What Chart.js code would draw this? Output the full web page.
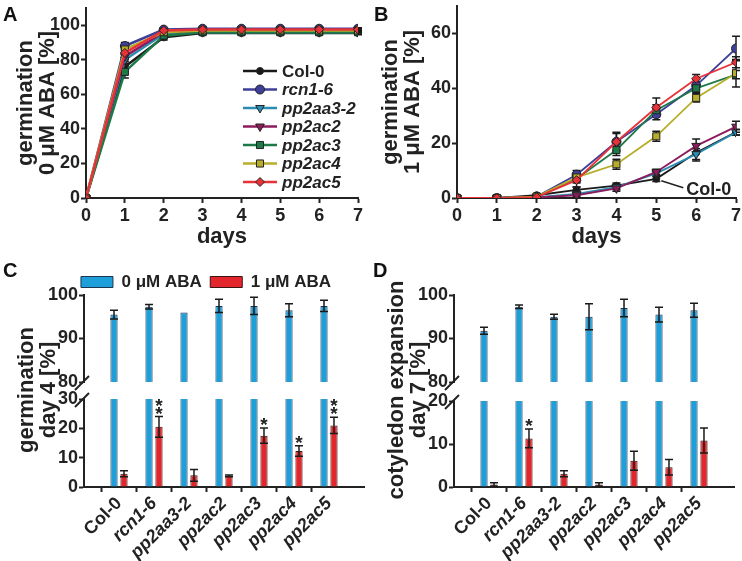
<!DOCTYPE html>
<html>
<head>
<meta charset="utf-8">
<script src="https://cdn.jsdelivr.net/npm/chart.js@4.4.1/dist/chart.umd.min.js"></script>
<style>
  body { margin: 0; background: #fff; }
  #wrap { position: relative; width: 742px; height: 561px; overflow: hidden; font-family: "Liberation Sans", Arial, sans-serif; }
  canvas { position: absolute; }
  .panel { position: absolute; font-weight: bold; font-size: 20px; line-height: 20px; color: #111; }
  .ytitle { position: absolute; width: 260px; height: 44px; font-weight: bold; font-size: 22px; line-height: 22px;
            color: #222; text-align: center; white-space: nowrap; transform: rotate(-90deg); }
</style>
</head>
<body>
<div id="wrap">
  <canvas id="cA" width="370" height="260" style="left:0;top:0"></canvas>
  <canvas id="cB" width="372" height="260" style="left:370px;top:0"></canvas>
  <canvas id="cCtop" width="370" height="135" style="left:0;top:262px"></canvas>
  <canvas id="cCbot" width="370" height="179" style="left:0;top:382px"></canvas>
  <canvas id="cDtop" width="372" height="135" style="left:370px;top:262px"></canvas>
  <canvas id="cDbot" width="372" height="179" style="left:370px;top:382px"></canvas>

  <div class="panel" style="left:3px;top:4px">A</div>
  <div class="panel" style="left:374px;top:4px">B</div>
  <div class="panel" style="left:3px;top:260px">C</div>
  <div class="panel" style="left:373px;top:260px">D</div>

  <div class="ytitle" style="left:-93px;top:368px"><div>germination</div><div>day 4 [%]</div></div>
  <div class="ytitle" style="left:277px;top:368px"><div>cotyledon expansion</div><div>day 7 [%]</div></div>
</div>
<script>
// ---- data ----
const days = [0, 1, 2, 3, 4, 5, 6, 7];
const genotypes = ['Col-0', 'rcn1-6', 'pp2aa3-2', 'pp2ac2', 'pp2ac3', 'pp2ac4', 'pp2ac5'];

// A: germination, 0 uM ABA
const aCol0   = [0, 76, 93, 95.5, 95.5, 95.5, 95.5, 95.5];
const aRcn1   = [0, 88, 97.5, 98, 98, 98, 98, 98];
const aPp2aa3 = [0, 80, 95, 96, 96, 96, 96, 96];
const aPp2ac2 = [0, 82, 96, 97, 97, 97, 97, 97];
const aPp2ac3 = [0, 73, 94, 96, 96, 96, 96, 96];
const aPp2ac4 = [0, 86, 96, 97, 97, 97, 97, 97];
const aPp2ac5 = [0, 84, 97, 97.5, 97.5, 97.5, 97.5, 97.5];
const aErrCol0   = [0, 3, 1.5, 1, 1, 1, 1, 1];
const aErrRcn1   = [0, 2, 1, 0.5, 0.5, 0.5, 0.5, 0.5];
const aErrPp2aa3 = [0, 2, 1, 1, 1, 1, 1, 1];
const aErrPp2ac2 = [0, 2, 1, 1, 1, 1, 1, 1];
const aErrPp2ac3 = [0, 3.5, 1.5, 1, 1, 1, 1, 1];
const aErrPp2ac4 = [0, 2, 1, 1, 1, 1, 1, 1];
const aErrPp2ac5 = [0, 2, 1, 0.5, 0.5, 0.5, 0.5, 0.5];

// B: germination, 1 uM ABA
const bCol0   = [0, 0, 1, 3, 4.5, 7, 16.5, 24];
const bRcn1   = [0, 0, 0.5, 8.5, 20.5, 30.5, 41, 54.5];
const bPp2aa3 = [0, 0, 0.3, 1.5, 4, 9, 16, 24];
const bPp2ac2 = [0, 0, 0.2, 1, 3.5, 9.5, 19, 26];
const bPp2ac3 = [0, 0, 0.5, 7, 17.5, 32, 40, 45];
const bPp2ac4 = [0, 0, 0.5, 7.5, 12.3, 22.5, 36.5, 45.5];
const bPp2ac5 = [0, 0, 0.3, 6.5, 20.5, 33, 43.5, 49.5];
const bErrCol0   = [0, 0, 0.5, 1, 1, 1, 3, 1];
const bErrRcn1   = [0, 0, 0.3, 1.5, 3, 2, 1.5, 4.5];
const bErrPp2aa3 = [0, 0, 0.2, 0.5, 1, 1, 2, 1];
const bErrPp2ac2 = [0, 0, 0.2, 0.5, 1, 1, 2.5, 2];
const bErrPp2ac3 = [0, 0, 0.3, 1.5, 2, 2, 1.5, 1.5];
const bErrPp2ac4 = [0, 0, 0.3, 1.5, 1.8, 1.8, 1.5, 5];
const bErrPp2ac5 = [0, 0, 0.3, 2.5, 3.5, 3.5, 1.5, 2];

// C: germination day 4
const cAba0    = [95.5, 97.3, 96.0, 97.5, 97.5, 96.5, 97.5];
const cAba0Err = [1.0, 0.5, 0, 1.5, 2.0, 1.5, 1.3];
const cAba1    = [4.5, 20.5, 4.0, 3.8, 17.5, 12.3, 21.0];
const cAba1Err = [1.0, 3.5, 2.0, 0.3, 2.6, 1.8, 2.8];
const cSig     = ['', '**', '', '', '*', '*', '**'];

// D: cotyledon expansion day 7
const dAba0    = [91.8, 97.3, 95.0, 95.0, 97.0, 95.5, 96.5];
const dAba0Err = [0.8, 0.4, 0.6, 3.0, 2.0, 1.7, 1.6];
const dAba1    = [0.6, 11.3, 3.1, 0.6, 6.1, 4.6, 10.8];
const dAba1Err = [0.4, 2.2, 0.7, 0.4, 2.2, 1.8, 2.9];
const dSig     = ['', '*', '', '', '', '', ''];

// ---- styles ----
const styles = [
  { color: '#1a1a1a', point: 'circle',   rot: 0,   r: 3.5 },
  { color: '#3d3f98', point: 'circle',   rot: 0,   r: 4.5 },
  { color: '#2a8db4', point: 'triangle', rot: 180, r: 5 },
  { color: '#8c1c5c', point: 'triangle', rot: 180, r: 5 },
  { color: '#1d7a48', point: 'rect',     rot: 0,   r: 5 },
  { color: '#b7ad2a', point: 'rect',     rot: 0,   r: 5 },
  { color: '#e8323a', point: 'rectRot',  rot: 0,   r: 4.5 }
];
const FONT = '"Liberation Sans", Arial, sans-serif';
const INK = '#222';
Chart.defaults.font.family = FONT;
Chart.defaults.font.weight = 'bold';
Chart.defaults.font.size = 18;
Chart.defaults.color = INK;
Chart.defaults.animation = false;

// pin scale sizes so the plot areas line up with the reference
function fix(size, vertical) {
  return s => {
    if (vertical) { s.width = size; s.paddingTop = 0; s.paddingBottom = 0; }
    else { s.height = size; s.paddingLeft = 0; s.paddingRight = 0; }
  };
}
const axisGrid = { drawOnChartArea: false, tickLength: 5, tickWidth: 2, tickColor: INK };
const axisBorder = { color: INK, width: 2 };

// ---- plugins ----
function drawErrors(chart, cap) {
  const ctx = chart.ctx, a = chart.chartArea;
  ctx.save();
  ctx.beginPath();
  ctx.rect(a.left - 8, a.top - 1, a.width + 16, a.height + 2);
  ctx.clip();
  ctx.strokeStyle = '#1a1a1a';
  ctx.lineWidth = 1.5;
  chart.data.datasets.forEach((ds, di) => {
    if (!ds.errors) return;
    const meta = chart.getDatasetMeta(di);
    const ys = chart.scales[meta.yAxisID];
    meta.data.forEach((el, i) => {
      const v = ds.data[i], e = ds.errors[i];
      if (v == null || !e) return;
      const x = el.x, y1 = ys.getPixelForValue(v + e), y2 = ys.getPixelForValue(v - e);
      ctx.beginPath();
      ctx.moveTo(x, y1); ctx.lineTo(x, y2);
      ctx.moveTo(x - cap, y1); ctx.lineTo(x + cap, y1);
      ctx.moveTo(x - cap, y2); ctx.lineTo(x + cap, y2);
      ctx.stroke();
    });
  });
  ctx.restore();
}
const errorBars = {
  id: 'errorBars',
  beforeDatasetsDraw(chart, args, opts) { if (!opts.front) drawErrors(chart, opts.cap); },
  afterDatasetsDraw(chart, args, opts) { if (opts.front) drawErrors(chart, opts.cap); }
};

const sigMarks = {
  id: 'sigMarks',
  afterDatasetsDraw(chart) {
    const ctx = chart.ctx, a = chart.chartArea;
    chart.data.datasets.forEach((ds, di) => {
      if (!ds.sig) return;
      const meta = chart.getDatasetMeta(di);
      const ys = chart.scales[meta.yAxisID];
      meta.data.forEach((el, i) => {
        const s = ds.sig[i];
        if (!s) return;
        const top = ys.getPixelForValue(ds.data[i] + (ds.errors[i] || 0));
        if (top < a.top) return;
        ctx.save();
        ctx.fillStyle = INK;
        ctx.font = 'bold 19px ' + FONT;
        ctx.textAlign = 'center';
        ctx.textBaseline = 'alphabetic';
        for (let k = 0; k < s.length; k++) {
          ctx.fillText('*', el.x, top - 8 - k * 8 + 11);
        }
        ctx.restore();
      });
    });
  }
};

const axisBreak = {
  id: 'axisBreak',
  afterDraw(chart, args, opts) {
    if (!opts.at) return;
    const a = chart.chartArea, ctx = chart.ctx;
    const y = opts.at === 'top' ? a.top : a.bottom;
    ctx.save();
    ctx.strokeStyle = INK;
    ctx.lineWidth = 2;
    ctx.beginPath();
    ctx.moveTo(a.left - 9, y + 8);
    ctx.lineTo(a.left + 5, y - 6);
    ctx.stroke();
    ctx.restore();
  }
};

const lineLegend = {
  id: 'lineLegend',
  afterDraw(chart, args, opts) {
    if (opts.x == null) return;
    const ctx = chart.ctx;
    chart.data.datasets.forEach((ds, i) => {
      const y = opts.y + i * opts.step;
      ctx.save();
      ctx.strokeStyle = ds.borderColor;
      ctx.lineWidth = 2.5;
      ctx.beginPath();
      ctx.moveTo(opts.x, y); ctx.lineTo(opts.x + 34, y);
      ctx.stroke();
      ctx.fillStyle = ds.pointBackgroundColor;
      ctx.strokeStyle = ds.pointBorderColor;
      ctx.lineWidth = 1;
      Chart.helpers.drawPoint(ctx, { pointStyle: ds.pointStyle, rotation: ds.pointRotation, radius: ds.pointRadius, borderWidth: 1 }, opts.x + 17, y);
      ctx.fillStyle = INK;
      ctx.font = (i === 0 ? '' : 'italic ') + 'bold 17px ' + FONT;
      ctx.textBaseline = 'middle';
      ctx.fillText(ds.label, opts.x + 39, y + 1);
      ctx.restore();
    });
  }
};

const note = {
  id: 'note',
  afterDatasetsDraw(chart, args, opts) {
    if (!opts.text) return;
    const ctx = chart.ctx;
    const x = chart.scales.x.getPixelForValue(opts.day);
    const y = chart.scales.y.getPixelForValue(opts.value);
    ctx.save();
    ctx.strokeStyle = INK;
    ctx.lineWidth = 1.5;
    ctx.beginPath();
    ctx.moveTo(x + 5, y + 2); ctx.lineTo(x + 27, y + 9);
    ctx.stroke();
    ctx.fillStyle = INK;
    ctx.font = 'bold 18px ' + FONT;
    ctx.textBaseline = 'middle';
    ctx.fillText(opts.text, x + 30, y + 11);
    ctx.restore();
  }
};

// ---- line panels ----
function lineChart(id, series, errors, cfg) {
  const datasets = series.map((data, i) => ({
    label: genotypes[i],
    data,
    errors: errors[i],
    borderColor: styles[i].color,
    backgroundColor: styles[i].color,
    borderWidth: cfg.lineWidth,
    tension: 0,
    pointStyle: styles[i].point,
    pointRotation: styles[i].rot,
    pointRadius: styles[i].r,
    pointBackgroundColor: styles[i].color,
    pointBorderColor: INK,
    pointBorderWidth: 1,
    order: series.length - i
  }));
  return new Chart(document.getElementById(id), {
    type: 'line',
    data: { labels: days, datasets },
    options: {
      responsive: false,
      layout: { padding: cfg.padding },
      plugins: {
        legend: { display: false },
        tooltip: { enabled: false },
        errorBars: { front: false, cap: 4 },
        lineLegend: cfg.legend || {},
        note: cfg.note || {}
      },
      scales: {
        x: {
          type: 'linear', min: 0, max: 7,
          ticks: { stepSize: 1, padding: 2 },
          grid: axisGrid, border: axisBorder,
          title: { display: true, text: 'days', font: { size: 22, lineHeight: 1 }, padding: { top: 0, bottom: 12 } },
          afterFit: fix(62, false)
        },
        y: {
          min: 0, max: cfg.yMax,
          ticks: { stepSize: 20, includeBounds: false, padding: 1 },
          grid: axisGrid, border: axisBorder,
          title: { display: true, text: cfg.yTitle, font: { size: 22, lineHeight: 1 }, padding: { top: cfg.titlePad, bottom: 0 } },
          afterFit: fix(cfg.yWidth, true)
        }
      }
    },
    plugins: [errorBars, lineLegend, note]
  });
}

lineChart('cA',
  [aCol0, aRcn1, aPp2aa3, aPp2ac2, aPp2ac3, aPp2ac4, aPp2ac5],
  [aErrCol0, aErrRcn1, aErrPp2aa3, aErrPp2ac2, aErrPp2ac3, aErrPp2ac4, aErrPp2ac5],
  { yMax: 110, yWidth: 86, titlePad: 15, lineWidth: 2.5, yTitle: ['germination', '0 μM ABA [%]'],
    padding: { left: 0, top: 8, right: 12, bottom: 0 },
    legend: { x: 243, y: 71, step: 18.5 } });

lineChart('cB',
  [bCol0, bRcn1, bPp2aa3, bPp2ac2, bPp2ac3, bPp2ac4, bPp2ac5],
  [bErrCol0, bErrRcn1, bErrPp2aa3, bErrPp2ac2, bErrPp2ac3, bErrPp2ac4, bErrPp2ac5],
  { yMax: 70, yWidth: 87, titlePad: 10, lineWidth: 1.8, yTitle: ['germination', '1 μM ABA [%]'],
    padding: { left: 0, top: 2, right: 5, bottom: 0 },
    note: { day: 5, value: bCol0[5], text: 'Col-0' } });

// ---- bar panels (broken y axis: upper and lower part) ----
const padded = a => [null, ...a, null];
const barLabels = padded(genotypes).map(v => v || '');

function barChart(id, part, cfg) {
  const upper = part === 'upper';
  const datasets = [
    { label: '0 μM ABA', data: padded(cfg.v0), errors: padded(cfg.e0),
      backgroundColor: '#1f9fda', borderColor: '#1d3550', borderWidth: 1,
      categoryPercentage: 0.57, barPercentage: 0.72, clip: 0 },
    { label: '1 μM ABA', data: padded(cfg.v1), errors: padded(cfg.e1), sig: padded(cfg.sig),
      backgroundColor: '#e3252c', borderColor: '#3d1414', borderWidth: 1,
      categoryPercentage: 0.57, barPercentage: 0.72, clip: 0 }
  ];
  const x = upper
    ? { display: false }
    : {
        ticks: {
          autoSkip: false, minRotation: 45, maxRotation: 45, padding: 1,
          font: c => ({ family: FONT, size: 18, weight: 'bold', style: c.tick && c.tick.label === 'Col-0' ? 'normal' : 'italic' })
        },
        grid: { drawOnChartArea: false, tickLength: 5, tickWidth: 2,
                tickColor: c => (c.index === 0 || c.index === 8) ? 'rgba(0,0,0,0)' : INK },
        border: axisBorder,
        afterFit: fix(74, false)
      };
  return new Chart(document.getElementById(id), {
    type: 'bar',
    data: { labels: barLabels, datasets },
    options: {
      responsive: false,
      layout: { padding: cfg.padding },
      plugins: {
        legend: cfg.legend ? {
          display: true, position: 'top', maxHeight: 30,
          labels: { boxWidth: 32, boxHeight: 11, padding: 8.5, color: INK, font: { size: 17, weight: 'bold' } }
        } : { display: false },
        tooltip: { enabled: false },
        errorBars: { front: true, cap: 4 },
        axisBreak: { at: upper ? 'bottom' : 'top' }
      },
      scales: {
        x: Object.assign({ offset: false }, x),
        y: {
          min: cfg.yMin, max: cfg.yMax,
          ticks: { stepSize: 10, padding: 1 },
          grid: axisGrid, border: axisBorder,
          afterFit: fix(36, true)
        }
      }
    },
    plugins: [errorBars, sigMarks, axisBreak]
  });
}

barChart('cCtop', 'upper', { v0: cAba0, e0: cAba0Err, v1: cAba1, e1: cAba1Err, sig: cSig, yMin: 80, yMax: 100, legend: true,
  padding: { left: 48, top: 3, right: 6, bottom: 15 } });
barChart('cCbot', 'lower', { v0: cAba0, e0: cAba0Err, v1: cAba1, e1: cAba1Err, sig: cSig, yMin: 0, yMax: 30,
  padding: { left: 48, top: 17, right: 6, bottom: 0 } });
barChart('cDtop', 'upper', { v0: dAba0, e0: dAba0Err, v1: dAba1, e1: dAba1Err, sig: dSig, yMin: 80, yMax: 100,
  padding: { left: 48, top: 33, right: 8, bottom: 15 } });
barChart('cDbot', 'lower', { v0: dAba0, e0: dAba0Err, v1: dAba1, e1: dAba1Err, sig: dSig, yMin: 0, yMax: 20,
  padding: { left: 48, top: 19, right: 8, bottom: 0 } });
</script>
</body>
</html>
